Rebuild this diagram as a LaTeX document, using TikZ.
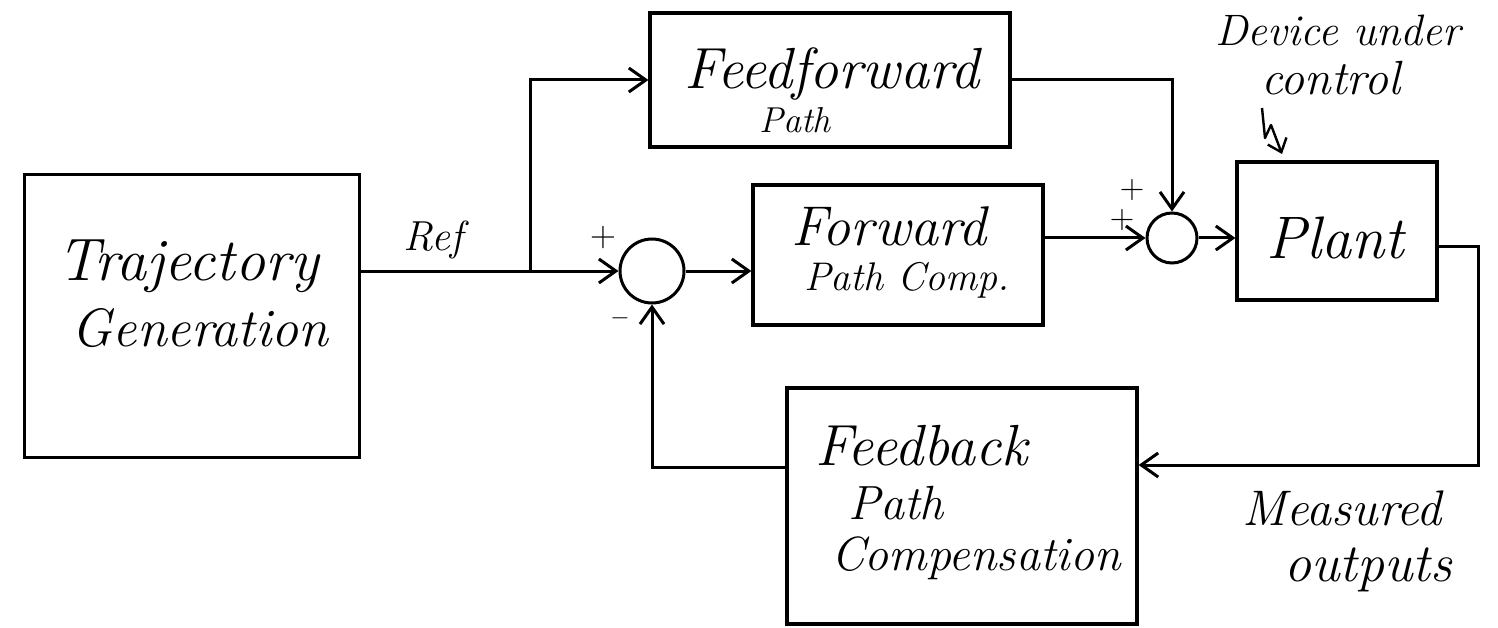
\documentclass[tikz,border=0pt]{standalone}
\usepackage{fontspec}
\usetikzlibrary{arrows.meta}
\newcommand{\hfs}[1]{\fontsize{#1}{#1}\selectfont\itshape}
\begin{document}
\begin{tikzpicture}[x=1pt,y=-1pt,
  blk/.style={draw, line width=3.2pt, inner sep=0pt},
  sumj/.style={draw, circle, line width=3pt, inner sep=0pt},
  wire/.style={line width=3pt, line join=miter},
  flow/.style={wire, -{Straight Barb[length=17pt,width=24pt,line width=3pt]}},
  txt/.style={inner sep=0pt},
]
\useasboundingbox[fill=white] (0,0) rectangle (1498,628);

% blocks
\node[blk, minimum width=335, minimum height=283] (traj) at (192,316) {};
\node[blk, minimum width=360, minimum height=134] (ff) at (830,80) {};
\node[blk, minimum width=290, minimum height=140] (fwd) at (898,255) {};
\node[blk, minimum width=200, minimum height=138] (plant) at (1337,231) {};
\node[blk, minimum width=350, minimum height=236] (fb) at (962,506) {};

% summing junctions
\node[sumj, minimum size=64] (sum1) at (652,271) {};
\node[sumj, minimum size=50] (sum2) at (1172,238) {};

% block texts
\node[txt, font=\hfs{60}] (trajA) at (188,266) {Trajectory};
\node[txt, font=\hfs{54}] (trajB) at (200,328) {Generation};
\node[txt, font=\hfs{58}] (ffA) at (832,74) {Feedforward};
\node[txt, font=\hfs{36}] (ffB) at (795,120) {Path};
\node[txt, font=\hfs{56}] (fwdA) at (889,226) {Forward};
\node[txt, font=\hfs{40}] (fwdB) at (907,280) {Path Comp.};
\node[txt, font=\hfs{60}] (plantT) at (1335,238) {Plant};
\node[txt, font=\hfs{58}, anchor=west] (fbA) at (815,446) {Feedback};
\node[txt, font=\hfs{48}, anchor=west] (fbB) at (848,503) {Path};
\node[txt, font=\hfs{48}, anchor=west] (fbC) at (831,558) {Compensation};

% signal labels
\node[txt, font=\hfs{42}] (ref) at (433,240) {Ref};
\node[txt, font=\hfs{44}] (devA) at (1338,30) {Device under};
\node[txt, font=\hfs{48}] (devB) at (1331,78) {control};
\node[txt, font=\hfs{50}] (measA) at (1342,508) {Measured};
\node[txt, font=\hfs{54}] (measB) at (1368,570) {outputs};
\node[txt, font=\fontsize{36}{36}\selectfont] (p1) at (603,238) {+};
\node[txt, font=\fontsize{36}{36}\selectfont] (m1) at (620,318) {$-$};
\node[txt, font=\fontsize{34}{34}\selectfont] (p2) at (1132,190) {+};
\node[txt, font=\fontsize{34}{34}\selectfont] (p3) at (1122,220) {+};

% helper coordinates
\coordinate (brx) at (530,0);
\coordinate (outy) at (0,247);
\coordinate (ret) at (1478,465);
\coordinate (fby) at (0,467);
\coordinate (dq) at (1262,108);
\coordinate (dtip) at (1282,154);

% connectors
\draw[flow] (sum1.west -| traj.east) -- (sum1.west);
\draw[flow] (sum1.west -| brx) |- (ff.west);
\draw[flow] (sum1.east) -- (sum1.east -| fwd.west);
\draw[flow] (sum2.west -| fwd.east) -- (sum2.west);
\draw[flow] (ff.east) -| (sum2.north);
\draw[flow] (sum2.east) -- (sum2.east -| plant.west);
\draw[flow] (plant.east |- outy) -| (ret) -- (ret -| fb.east);
\draw[flow] (fb.west |- fby) -| (sum1.south);
\draw[wire, line width=2.4pt, line join=round,
      -{Straight Barb[length=12pt,width=20pt,line width=2.4pt]}]
  (dq) -- (1265,138) -- (1271,125) -- (dtip);
\end{tikzpicture}
\end{document}
